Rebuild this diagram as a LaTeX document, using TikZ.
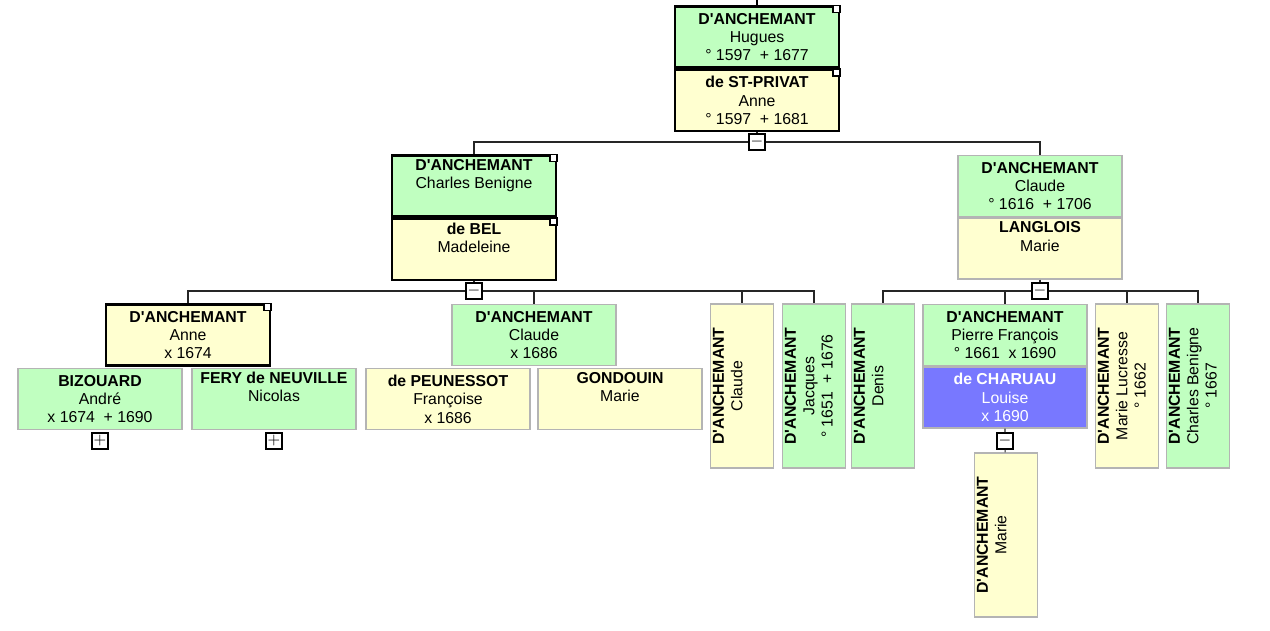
\documentclass[tikz,border=0pt]{standalone}
\usepackage{fontspec}
\setsansfont{Liberation Sans}[Ligatures=TeXOff]
\usetikzlibrary{positioning}

\definecolor{mgreen}{RGB}{192,255,192}
\definecolor{fyellow}{RGB}{255,255,208}
\definecolor{selblue}{RGB}{120,120,255}
\definecolor{boxline}{RGB}{180,180,180}

\begin{document}
\begin{tikzpicture}[x=0.02cm,y=-0.02cm,node distance=0.01cm,
    every node/.style={font=\sffamily\fontsize{9}{10.5}\selectfont},
    male/.style={rectangle,draw=boxline,line width=0.8pt,fill=mgreen,align=center,
                 minimum width=3.28cm,minimum height=1.22cm,inner sep=1pt},
    female/.style={male,fill=fyellow},
    selected/.style={male,fill=selblue,text=white},
    focus/.style={draw=black,line width=1.2pt},
    tall/.style={minimum width=1.26cm,minimum height=3.28cm},
    vtext/.style={rotate=90,anchor=north,align=center,inner sep=1.5pt},
    toggle/.style={draw,fill=white,line width=0.6pt,minimum size=0.32cm,inner sep=0pt,
                   font=\small},
    link/.style={draw=black!85,line width=0.6pt}]

  \useasboundingbox (0,0) rectangle (1270,630);

  % generation 1
  \coordinate (root) at (757,0);
  \node[male,focus] (hugues) at (757,37) {\textbf{D'ANCHEMANT}\\Hugues\\° 1597~~+ 1677};
  \node[female,focus,below=of hugues] (privat) {\textbf{de ST-PRIVAT}\\Anne\\° 1597~~+ 1681};

  % generation 2
  \node[male,focus] (charles) at (474,186) {\textbf{D'ANCHEMANT}\\Charles Benigne\\ \strut};
  \node[female,focus,below=of charles] (debel) {\textbf{de BEL}\\Madeleine\\ \strut};
  \node[male] (claudeR) at (1040,186) {\textbf{D'ANCHEMANT}\\Claude\\° 1616~~+ 1706};
  \node[female,below=0pt of claudeR] (langlois) {\textbf{LANGLOIS}\\Marie\\ \strut};

  % generation 3, left
  \node[female,focus] (anneD) at (188,335) {\textbf{D'ANCHEMANT}\\Anne\\x 1674};
  \node[male] (bizouard) at (100,399) {\textbf{BIZOUARD}\\André\\x 1674~~+ 1690};
  \node[male] (fery) at (274,399) {\textbf{FERY de NEUVILLE}\\Nicolas\\ \strut};
  \node[male] (claudeX) at (534,335) {\textbf{D'ANCHEMANT}\\Claude\\x 1686};
  \node[female] (peunessot) at (448,399) {\textbf{de PEUNESSOT}\\Françoise\\x 1686};
  \node[female] (gondouin) at (620,399) {\textbf{GONDOUIN}\\Marie\\ \strut};
  \node[female,tall] (claudeV) at (742,386) {};
  \node[male,tall] (jacques) at (814,386) {};

  % generation 3, right
  \node[male,tall] (denis) at (883,386) {};
  \node[male] (pierre) at (1005,335) {\textbf{D'ANCHEMANT}\\Pierre François\\° 1661~~x 1690};
  \node[selected,below=0pt of pierre] (charuau) {\textbf{de CHARUAU}\\Louise\\x 1690};
  \node[female,tall] (lucresse) at (1127,386) {};
  \node[male,tall] (charlesB) at (1198,386) {};
  \node[female,tall] (marie) at (1006,535) {};

  % rotated names
  \node[vtext] (claudeVt) at (claudeV.west) {\textbf{D'ANCHEMANT}\\Claude};
  \node[vtext] (jacquest) at (jacques.west) {\textbf{D'ANCHEMANT}\\Jacques\\° 1651~~+ 1676};
  \node[vtext] (denist) at (denis.west) {\textbf{D'ANCHEMANT}\\Denis};
  \node[vtext] (lucresset) at (lucresse.west) {\textbf{D'ANCHEMANT}\\Marie Lucresse\\° 1662};
  \node[vtext] (charlesBt) at (charlesB.west) {\textbf{D'ANCHEMANT}\\Charles Benigne\\° 1667};
  \node[vtext] (mariet) at (marie.west) {\textbf{D'ANCHEMANT}\\Marie};

  % corner marks
  \foreach \n in {hugues,privat,charles,debel,anneD}
    \draw[fill=white,line width=0.8pt] (\n.north east) rectangle ++(-7,7);

  % toggles
  \node[toggle] (tgA) at (757,142) {$-$};
  \node[toggle] (tgB) at (474,291) {$-$};
  \node[toggle] (tgC) at (1040,291) {$-$};
  \node[toggle] (tgD) at (1005,441) {$-$};
  \node[toggle] (tgE) at (100,441) {$+$};
  \node[toggle] (tgF) at (274,441) {$+$};

  % connectors
  \draw[line width=1.2pt] (root) -- (hugues);
  \path[link] (privat) -- (tgA)
    (tgA) -| (charles)
    (tgA) -| (claudeR);
  \path[link] (debel) -- (tgB)
    (tgB) -| (anneD)
    (tgB) -| (claudeX)
    (tgB) -| (claudeV)
    (tgB) -| (jacques);
  \path[link] (langlois) -- (tgC)
    (tgC) -| (denis)
    (tgC) -| (pierre)
    (tgC) -| (lucresse)
    (tgC) -| (charlesB);
  \path[link] (charuau) -- (tgD) -- (marie);
\end{tikzpicture}
\end{document}
